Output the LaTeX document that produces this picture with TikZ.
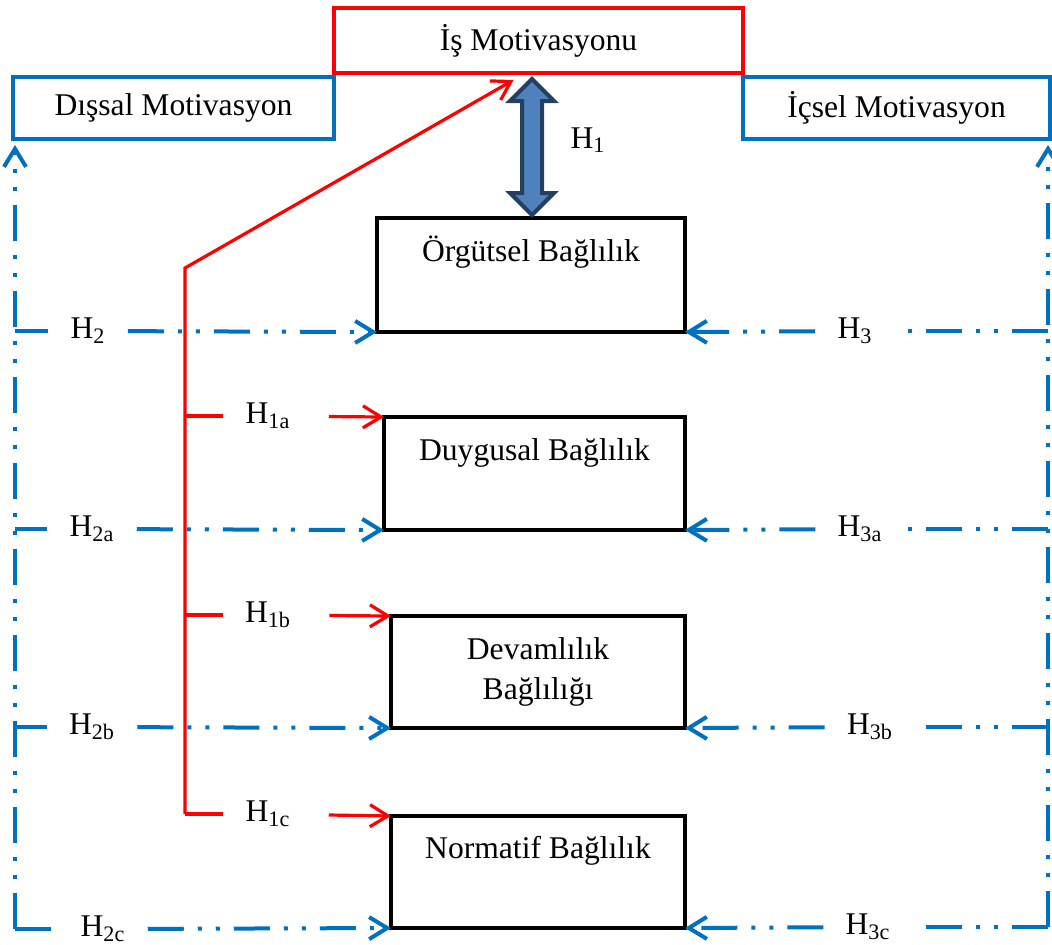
\documentclass[tikz,border=0pt]{standalone}
\usepackage{fontspec}
\setmainfont{Liberation Serif}
\usetikzlibrary{arrows.meta,calc}
\definecolor{bblue}{HTML}{0070C0}
\definecolor{hfill}{HTML}{4F81BD}
\definecolor{hdark}{HTML}{243F60}
\begin{document}
\begin{tikzpicture}[x=0.5pt,y=-0.5pt,
	every node/.style={font=\fontsize{15.8}{20}\selectfont},
	>={Straight Barb[length=9pt,width=11pt]},
	mbox/.style={draw,line width=2pt,inner sep=0pt,minimum height=31pt},
	kbox/.style={draw=black,line width=2pt,inner sep=0pt,outer sep=0pt,anchor=north east,align=center},
	toptext/.style={text height=11pt,text depth=24.5pt},
	hlbl/.style={inner xsep=11pt,inner ysep=2pt},
	redln/.style={draw=red,line width=1.6pt},
	bdd/.style={draw=bblue,line width=2pt,dash pattern=on 18pt off 7pt on 2pt off 7pt on 2pt off 7pt},
	harrow/.style={draw=hdark,fill=hfill,line width=2pt,line join=miter}]
	\useasboundingbox (0,0) rectangle (1052,944);
	
	% motivation boxes
	\node[mbox,draw=red,minimum width=204.5pt,minimum height=32.5pt] (ism) at (538.5,40.5) {İş Motivasyonu};
	\node[mbox,draw=bblue,minimum width=160.5pt] (dis) at (173.5,108) {Dışsal Motivasyon};
	\node[mbox,draw=bblue,minimum width=153.5pt] (ic) at (896.5,108) {İçsel Motivasyon};
	
	% commitment boxes
	\node[kbox,toptext,minimum width=154pt,minimum height=57pt] (org) at (685,218) {Örgütsel Bağlılık};
	\node[kbox,toptext,minimum width=150.5pt,minimum height=56.5pt] (duy) at (685,417) {Duygusal Bağlılık};
	\node[kbox,minimum width=147pt,minimum height=56pt] (dev) at (685,616) {Devamlılık\\Bağlılığı};
	\node[kbox,toptext,minimum width=147pt,minimum height=56pt] (nor) at (685,816) {Normatif Bağlılık};
	
	% H1
	\coordinate (h1top) at ($(ism.south)+(-6.5,4)$);
	\coordinate (h1bot) at ($(org.north)+(1,-3)$);
	\draw[harrow] (h1top) -- ++(22,22) -- ++(-12,0) -- ($(h1bot)+(10,-22)$) -- ++(12,0) -- (h1bot)
		-- ++(-22,-22) -- ++(12,0) -- ($(h1top)+(-10,22)$) -- ++(-12,0) -- cycle;
	\node (h1) at (588,140) {H\textsubscript{1}};
	
	% red lines
	\coordinate (rtop) at (185,268);
	\coordinate (rbot) at (185,814);
	\coordinate (ist) at ($(ism.south)+(-25,5)$);
	\draw[redln,->] (rbot) -- (rtop) -- (ist);
	\node[hlbl] (h1a) at (268,416) {H\textsubscript{1a}};
	\node[hlbl] (h1b) at (268,615) {H\textsubscript{1b}};
	\node[hlbl] (h1c) at (268,814) {H\textsubscript{1c}};
	\foreach \l/\b in {h1a/duy,h1b/dev,h1c/nor}{
		\draw[redln] (\l -| rtop) -- (\l);
		\draw[redln,->,shorten <=8pt] (\l) -- (\b.north west);
	}
	
	% blue lines, left
	\coordinate (lb) at (15,929);
	\draw[bdd,->,shorten >=2pt] (lb) -- (lb |- dis.south);
	\node[hlbl] (h2) at (88,331) {H\textsubscript{2}};
	\node[hlbl] (h2a) at (92,529) {H\textsubscript{2a}};
	\node[hlbl] (h2b) at (92,727) {H\textsubscript{2b}};
	\node[hlbl] (h2c) at (103,929) {H\textsubscript{2c}};
	
	% blue lines, right
	\coordinate (rb) at (1048,927);
	\draw[bdd,->,shorten >=2pt] (rb) -- (rb |- ic.south);
	\node[hlbl] (h3) at (855,331) {H\textsubscript{3}};
	\node[hlbl] (h3a) at (860,529) {H\textsubscript{3a}};
	\node[hlbl] (h3b) at (870,727) {H\textsubscript{3b}};
	\node[hlbl] (h3c) at (868,927) {H\textsubscript{3c}};
	
	\foreach \l/\r/\b in {h2/h3/org,h2a/h3a/duy,h2b/h3b/dev,h2c/h3c/nor}{
		\draw[bdd] (\l -| lb) -- (\l);
		\draw[bdd,->] (\l) -- (\b.south west);
		\draw[bdd] (\r -| rb) -- (\r);
		\draw[bdd,->] (\r) -- (\b.south east);
	}
\end{tikzpicture}
\end{document}
